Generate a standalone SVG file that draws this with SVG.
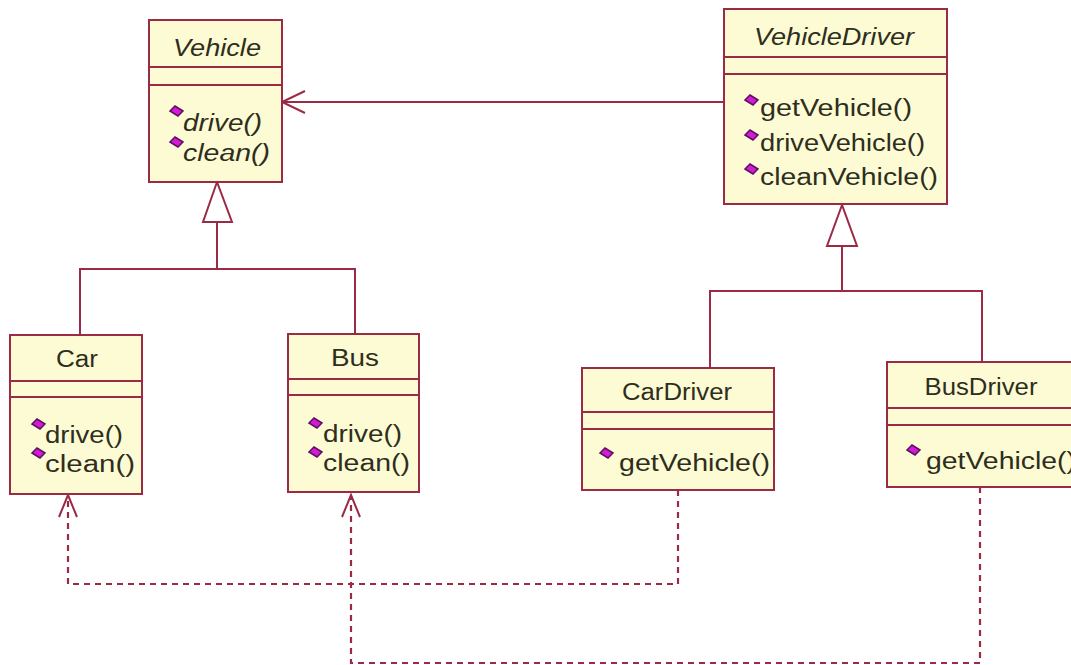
<svg xmlns="http://www.w3.org/2000/svg" width="1071" height="665" viewBox="0 0 1071 665">
<style>
.box{fill:#FDFBD3;stroke:#9B2A45;stroke-width:2}
.div{stroke:#9B2A45;stroke-width:2}
.t{font-family:"Liberation Sans",Arial,sans-serif;font-size:23px;fill:#2E2E1E}
.ti{font-style:italic}
.c{text-anchor:middle}
.ln{fill:none;stroke:#9B2A45;stroke-width:2}
.dash{fill:none;stroke:#9B2A45;stroke-width:2.2;stroke-dasharray:6 5}
.tri{fill:#fff;stroke:#9B2A45;stroke-width:2}
.op{fill:#D41BD4;stroke:#5A1060;stroke-width:1.5}
</style>
<defs>
<polygon id="d" class="op" points="0,5 5,0 13,5 8,10"/>
</defs>
<g id="connectors">
<line class="ln" x1="724" y1="102" x2="282" y2="102"/>
<polyline class="ln" points="305,91 282,102 305,113"/>
<polygon class="tri" points="217,182 203,222 232,222"/>
<polyline class="ln" points="217,222 217,269"/>
<polyline class="ln" points="80,335 80,269 355,269 355,334"/>
<polygon class="tri" points="842,205 827,246 857,246"/>
<polyline class="ln" points="842,246 842,291"/>
<polyline class="ln" points="710,368 710,291 982,291 982,362"/>
<polyline class="dash" points="678,490 678,584 68,584 68,497"/>
<polyline class="ln" points="59,517 68,495 77,517"/>
<polyline class="dash" points="980,487 980,663 351,663 351,497"/>
<polyline class="ln" points="342,517 351,495 360,517"/>
</g>
<g id="Vehicle">
<rect class="box" x="149" y="20" width="133" height="162"/>
<line class="div" x1="149" y1="67" x2="282" y2="67"/>
<line class="div" x1="149" y1="85" x2="282" y2="85"/>
<text class="t ti c" x="217" y="56" textLength="88" lengthAdjust="spacingAndGlyphs">Vehicle</text>
<use href="#d" x="170" y="106"/>
<text class="t ti" x="183" y="131" textLength="79" lengthAdjust="spacingAndGlyphs">drive()</text>
<use href="#d" x="170" y="137"/>
<text class="t ti" x="183" y="161" textLength="87" lengthAdjust="spacingAndGlyphs">clean()</text>
</g>
<g id="VehicleDriver">
<rect class="box" x="724" y="9" width="223" height="195"/>
<line class="div" x1="724" y1="57" x2="947" y2="57"/>
<line class="div" x1="724" y1="74" x2="947" y2="74"/>
<text class="t ti c" x="834" y="45" textLength="160" lengthAdjust="spacingAndGlyphs">VehicleDriver</text>
<use href="#d" x="745" y="95"/>
<text class="t" x="760" y="116" textLength="152" lengthAdjust="spacingAndGlyphs">getVehicle()</text>
<use href="#d" x="745" y="130"/>
<text class="t" x="760" y="151" textLength="165" lengthAdjust="spacingAndGlyphs">driveVehicle()</text>
<use href="#d" x="745" y="164"/>
<text class="t" x="760" y="185" textLength="178" lengthAdjust="spacingAndGlyphs">cleanVehicle()</text>
</g>
<g id="Car">
<rect class="box" x="10" y="335" width="132" height="159"/>
<line class="div" x1="10" y1="381" x2="142" y2="381"/>
<line class="div" x1="10" y1="397" x2="142" y2="397"/>
<text class="t c" x="77" y="367" textLength="42" lengthAdjust="spacingAndGlyphs">Car</text>
<use href="#d" x="32" y="419"/>
<text class="t" x="45" y="443" textLength="78" lengthAdjust="spacingAndGlyphs">drive()</text>
<use href="#d" x="32" y="448"/>
<text class="t" x="45" y="472" textLength="90" lengthAdjust="spacingAndGlyphs">clean()</text>
</g>
<g id="Bus">
<rect class="box" x="288" y="334" width="131" height="158"/>
<line class="div" x1="288" y1="379" x2="419" y2="379"/>
<line class="div" x1="288" y1="395" x2="419" y2="395"/>
<text class="t c" x="355" y="366" textLength="48" lengthAdjust="spacingAndGlyphs">Bus</text>
<use href="#d" x="309" y="418"/>
<text class="t" x="323" y="442" textLength="79" lengthAdjust="spacingAndGlyphs">drive()</text>
<use href="#d" x="309" y="447"/>
<text class="t" x="323" y="471" textLength="87" lengthAdjust="spacingAndGlyphs">clean()</text>
</g>
<g id="CarDriver">
<rect class="box" x="582" y="368" width="192" height="122"/>
<line class="div" x1="582" y1="412" x2="774" y2="412"/>
<line class="div" x1="582" y1="429" x2="774" y2="429"/>
<text class="t c" x="677" y="400" textLength="110" lengthAdjust="spacingAndGlyphs">CarDriver</text>
<use href="#d" x="600" y="448"/>
<text class="t" x="619" y="471" textLength="151" lengthAdjust="spacingAndGlyphs">getVehicle()</text>
</g>
<g id="BusDriver">
<rect class="box" x="887" y="362" width="195" height="125"/>
<line class="div" x1="887" y1="408" x2="1082" y2="408"/>
<line class="div" x1="887" y1="425" x2="1082" y2="425"/>
<text class="t c" x="981" y="395" textLength="113" lengthAdjust="spacingAndGlyphs">BusDriver</text>
<use href="#d" x="907" y="445"/>
<text class="t" x="926" y="469" textLength="150" lengthAdjust="spacingAndGlyphs">getVehicle()</text>
</g>
</svg>
